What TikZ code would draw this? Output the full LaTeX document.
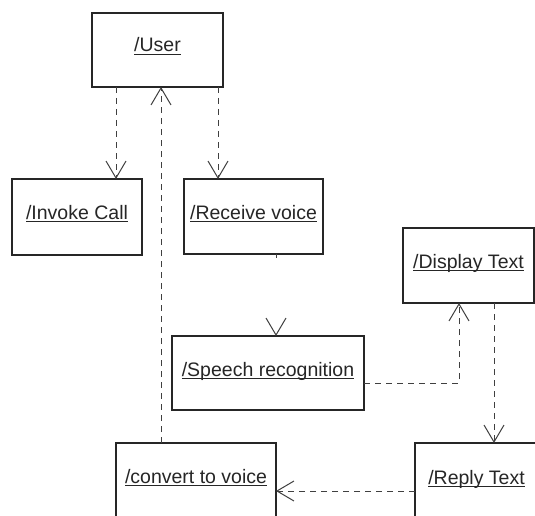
\documentclass[tikz,border=0pt]{standalone}
\usepackage{fontspec}
\setmainfont{Liberation Sans}
\usetikzlibrary{arrows.meta,calc}
\newcommand\ulx[1]{\setbox0\hbox{#1}\rlap{\copy0}\rule[-3pt]{\wd0}{1.3pt}}
\tikzset{
  umlbox/.style={draw=black!85, line width=1.6pt, rectangle, outer sep=0pt, inner sep=0pt, fill=white},
  lbl/.style={anchor=base, inner sep=0pt, text=black!85, font=\fontsize{19.5}{22}\selectfont},
  dep/.style={draw=black!75, line width=1pt, dash pattern=on 6pt off 5pt,
    -{Straight Barb[length=17pt,width=20pt,line width=1pt]}},
}
\begin{document}
\begin{tikzpicture}[x=1pt,y=-1pt]
\useasboundingbox (0,0) rectangle (535,516);
\clip (0,0) rectangle (535,516);
\fill[white] (0,0) rectangle (535,516);
% boxes
\node[umlbox, minimum width=131pt, minimum height=74pt] (user) at (157.5,50) {};
\node[umlbox, minimum width=130pt, minimum height=76pt] (invoke) at (77,217) {};
\node[umlbox, minimum width=139pt, minimum height=75pt] (receive) at (253.5,216.5) {};
\node[umlbox, minimum width=192pt, minimum height=74pt] (speech) at (268,373) {};
\node[umlbox, minimum width=131pt, minimum height=75pt] (display) at (468.5,265.5) {};
\node[umlbox, minimum width=160pt, minimum height=75pt] (convert) at (196,480.5) {};
\node[umlbox, minimum width=123pt, minimum height=75pt] (reply) at (476.5,480.5) {};
% labels
\node[lbl] (userT) at ($(user.north)+(0,39)$) {\ulx{/User}};
\node[lbl] (invokeT) at ($(invoke.north)+(0,40)$) {\ulx{/Invoke Call}};
\node[lbl] (receiveT) at ($(receive.north)+(0,40)$) {\ulx{/Receive voice}};
\node[lbl] (speechT) at ($(speech.north)+(0,40)$) {\ulx{/Speech recognition}};
\node[lbl] (displayT) at ($(display.north)+(0,40)$) {\ulx{/Display Text}};
\node[lbl] (convertT) at ($(convert.north)+(0,40)$) {\ulx{/convert to voice}};
\node[lbl] (replyT) at ($(reply.north)+(0,41)$) {\ulx{/Reply Text}};
% connectors
\draw[dep] ($(user.south west)+(24,0)$) -- ($(invoke.north west)+(104,0)$);
\draw[dep] ($(user.south west)+(126,0)$) -- ($(receive.north west)+(34,0)$);
\draw[dep] ($(convert.north west)+(45,0)$) -- ($(user.south west)+(69,0)$);
\draw[dep, dash pattern=on 4pt off 200pt] ($(receive.south west)+(92,0)$) -- ($(speech.north west)+(104,0)$);
\draw[dep] ($(speech.east)+(0,10)$) -| ($(display.south west)+(56,0)$);
\draw[dep] ($(display.south west)+(91,0)$) -- ($(reply.north west)+(79,0)$);
\draw[dep] ($(reply.west)+(0,10.5)$) -- ($(convert.east)+(0,10.5)$);
\end{tikzpicture}
\end{document}
